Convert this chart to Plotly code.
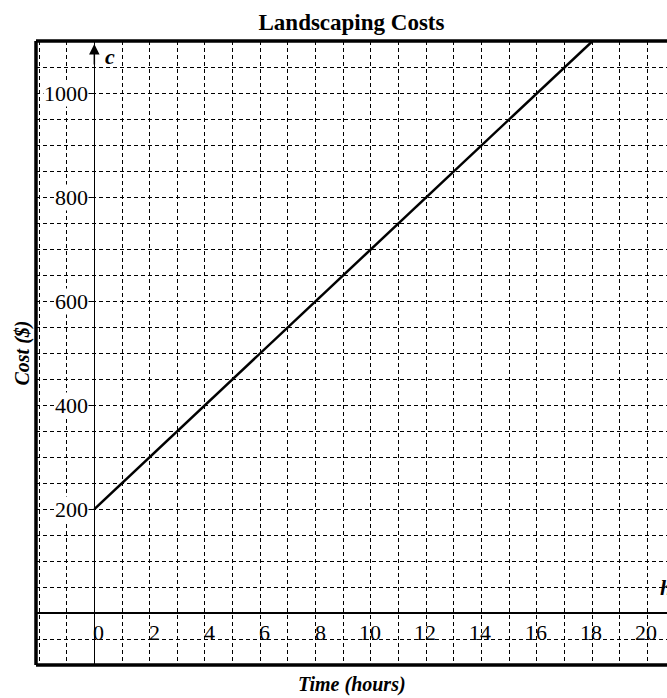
import plotly.graph_objects as go

# Data
hours = [0, 18]
cost = [200, 1100]
x_tick_vals = [0, 2, 4, 6, 8, 10, 12, 14, 16, 18, 20]
x_tick_text = ["0", "2", "4", "6", "8", "10", "12", "14", "16", "18", "20"]
y_tick_vals = [200, 400, 600, 800, 1000]
y_tick_text = ["200", "400", "600", "800", "1000"]

X_RANGE = [-2.11, 20.71]
Y_RANGE = [-100, 1101]

FONT = "Liberation Serif"
GRID_DASH = "4px,3px"

W, H = 667, 698
ML, MR, MT, MB = 36, 0, 41, 33
PW, PH = W - ML - MR, H - MT - MB

fig = go.Figure()
fig.add_trace(go.Scatter(x=hours, y=cost, mode="lines",
                         line=dict(color="black", width=2.5),
                         showlegend=False, hoverinfo="skip"))

x0frac = (0 - X_RANGE[0]) / (X_RANGE[1] - X_RANGE[0])
y0frac = (0 - Y_RANGE[0]) / (Y_RANGE[1] - Y_RANGE[0])

fig.update_layout(
    width=W, height=H,
    margin=dict(l=ML, r=MR, t=MT, b=MB, autoexpand=False),
    paper_bgcolor="white", plot_bgcolor="white",
    font=dict(family=FONT, color="black"),
    title=dict(text="<b>Landscaping Costs</b>", x=0.5, xref="paper",
               y=1 - 22 / H, yref="container", yanchor="middle", xanchor="center",
               font=dict(family=FONT, size=23, color="black")),
    xaxis=dict(range=X_RANGE, anchor="free", position=y0frac,
               tickvals=x_tick_vals, showticklabels=False,
               ticks="", showline=False,
               showgrid=True, gridcolor="black", gridwidth=1, griddash=GRID_DASH,
               minor=dict(dtick=1, tick0=0, showgrid=True, gridcolor="black",
                          gridwidth=1, griddash=GRID_DASH),
               zeroline=True, zerolinecolor="black", zerolinewidth=1.5,
               fixedrange=True),
    yaxis=dict(range=Y_RANGE, anchor="free", position=x0frac,
               tickvals=y_tick_vals, showticklabels=False,
               ticks="outside", ticklen=6, tickcolor="black", tickwidth=1.2,
               showline=False,
               showgrid=True, gridcolor="black", gridwidth=1, griddash=GRID_DASH,
               minor=dict(dtick=50, tick0=0, showgrid=True, gridcolor="black",
                          gridwidth=1, griddash=GRID_DASH),
               zeroline=True, zerolinecolor="black", zerolinewidth=1.5,
               fixedrange=True),
)

# Tick labels placed at axis values
for v, t in zip(x_tick_vals, x_tick_text):
    fig.add_annotation(x=v, y=-37, xref="x", yref="y", text=t, showarrow=False,
                       xanchor="right", yanchor="middle", xshift=12,
                       font=dict(family=FONT, size=22, color="black"))
for v, t in zip(y_tick_vals, y_tick_text):
    fig.add_annotation(x=0, y=v, xref="x", yref="y", text=t, showarrow=False,
                       xanchor="right", yanchor="middle", xshift=-5,
                       bgcolor="white", borderpad=0,
                       font=dict(family=FONT, size=22, color="black"))

# Frame (left, top, bottom)
for (xa, ya, xb, yb) in [(0, 0, 0, 1), (0, 1, 1.01, 1), (0, 0, 1.01, 0)]:
    fig.add_shape(type="line", xref="paper", yref="paper",
                  x0=xa, y0=ya, x1=xb, y1=yb,
                  line=dict(color="black", width=3.5))

# Arrow on y axis
fig.add_annotation(x=0, y=1095, ax=0, ay=22, xref="x", yref="y",
                   text="", showarrow=True, arrowhead=2, arrowsize=1.4,
                   arrowwidth=1.5, arrowcolor="black")

# Axis variable labels
fig.add_annotation(x=0.57, y=1072, xref="x", yref="y", text="<b><i>c</i></b>",
                   showarrow=False, xanchor="center", yanchor="middle",
                   font=dict(family=FONT, size=22, color="black"))
fig.add_annotation(x=20.37, y=49, xref="x", yref="y", text="<b><i>h</i></b>",
                   showarrow=False, xanchor="left", yanchor="middle",
                   font=dict(family=FONT, size=22, color="black"))

# Axis titles
fig.add_annotation(x=0.5, y=-(685 - (H - MB)) / PH, xref="paper", yref="paper",
                   text="<b><i>Time (hours)</i></b>", showarrow=False,
                   xanchor="center", yanchor="middle",
                   font=dict(family=FONT, size=20, color="black"))
fig.add_annotation(x=(21.5 - ML) / PW, y=0.5, xref="paper", yref="paper",
                   text="<b><i>Cost ($)</i></b>", showarrow=False, textangle=-90,
                   xanchor="center", yanchor="middle",
                   font=dict(family=FONT, size=20, color="black"))

fig.write_html(
    "out.html",
    config={"displayModeBar": False, "staticPlot": True},
    post_script="document.body.style.margin='0';document.body.style.padding='0';"
                "document.body.style.overflow='hidden';",
)
